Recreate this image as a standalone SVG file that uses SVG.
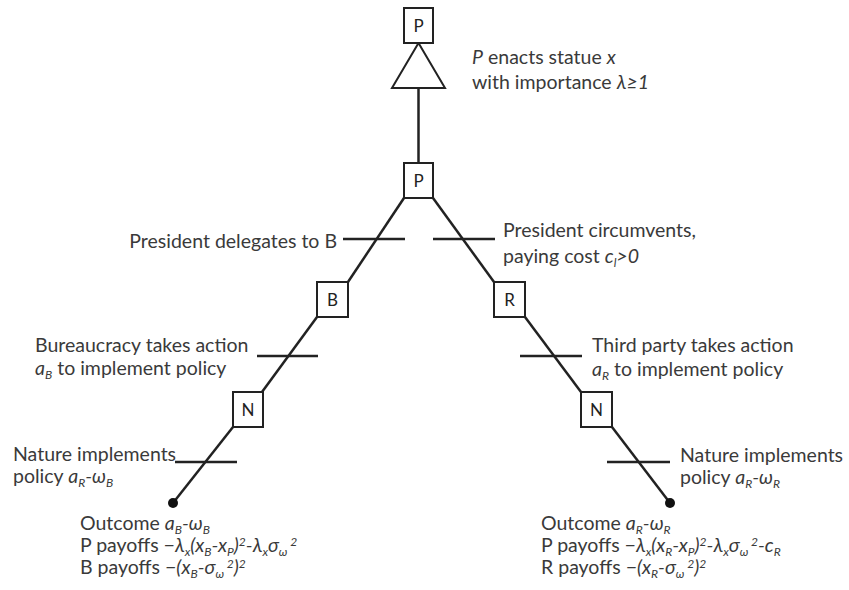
<svg xmlns="http://www.w3.org/2000/svg" width="849" height="590" viewBox="0 0 849 590">
<style>
  .box { fill: #fff; stroke: #222; stroke-width: 2; }
  .edge { stroke: #222; stroke-width: 2.5; fill: none; }
  .tick { stroke: #222; stroke-width: 2.5; }
  .lbl { font-family: Lato, "Liberation Sans", sans-serif; font-size: 19.5px; fill: #3a3a3a; }
  .nl { font-family: Lato, "Liberation Sans", sans-serif; font-size: 17px; fill: #222; text-anchor: middle; }
  .i { font-style: italic; }
  .s { font-size: 12px; font-style: italic; }
</style>
<rect width="849" height="590" fill="#fff"/>
<g id="connectors">
  <line class="edge" x1="418.5" y1="88" x2="418.5" y2="163"/>
  <line class="edge" x1="404" y1="198" x2="348" y2="282"/>
  <line class="edge" x1="433" y1="198" x2="494" y2="282"/>
  <line class="edge" x1="317" y1="317" x2="262" y2="392"/>
  <line class="edge" x1="525" y1="317" x2="581" y2="392"/>
  <line class="edge" x1="233" y1="427" x2="173" y2="503"/>
  <line class="edge" x1="612" y1="427" x2="670" y2="503"/>
  <line class="tick" x1="343" y1="239" x2="405" y2="239"/>
  <line class="tick" x1="433" y1="239" x2="495" y2="239"/>
  <line class="tick" x1="257" y1="356" x2="318" y2="356"/>
  <line class="tick" x1="520" y1="356" x2="582" y2="356"/>
  <line class="tick" x1="175" y1="462" x2="237" y2="462"/>
  <line class="tick" x1="607" y1="462" x2="670" y2="462"/>
</g>
<g id="node-P-root">
  <polygon class="box" points="418.5,43 392,88 445,88"/>
  <rect class="box" x="404" y="8" width="29" height="35"/>
  <text class="nl" x="418.5" y="32">P</text>
</g>
<g id="node-P">
  <rect class="box" x="404" y="163" width="29" height="35"/>
  <text class="nl" x="418.5" y="187">P</text>
</g>
<g id="node-B">
  <rect class="box" x="317" y="282" width="31" height="35"/>
  <text class="nl" x="332.5" y="306">B</text>
</g>
<g id="node-R">
  <rect class="box" x="494" y="282" width="31" height="35"/>
  <text class="nl" x="509.5" y="306">R</text>
</g>
<g id="node-N-left">
  <rect class="box" x="233" y="392" width="30" height="35"/>
  <text class="nl" x="248" y="416">N</text>
</g>
<g id="node-N-right">
  <rect class="box" x="581" y="392" width="31" height="35"/>
  <text class="nl" x="596.5" y="416">N</text>
</g>
<g id="node-end-left">
  <circle cx="173" cy="503" r="5" fill="#111"/>
</g>
<g id="node-end-right">
  <circle cx="670" cy="503" r="5" fill="#111"/>
</g>
<g id="labels">
  <text class="lbl" x="472" y="64"><tspan class="i">P</tspan> enacts statue <tspan class="i">x</tspan></text>
  <text class="lbl" x="472" y="89">with importance <tspan class="i">λ≥1</tspan></text>

  <text class="lbl" x="337" y="248" text-anchor="end">President delegates to B</text>

  <text class="lbl" x="503" y="237">President circumvents,</text>
  <text class="lbl" x="503" y="263">paying cost <tspan class="i">c</tspan><tspan class="s" dy="4">l</tspan><tspan class="i" dy="-4">&gt;0</tspan></text>

  <text class="lbl" x="35" y="352">Bureaucracy takes action</text>
  <text class="lbl" x="35" y="375"><tspan class="i">a</tspan><tspan class="s" dy="4">B</tspan><tspan dy="-4"> to implement policy</tspan></text>

  <text class="lbl" x="592" y="352">Third party takes action</text>
  <text class="lbl" x="592" y="376"><tspan class="i">a</tspan><tspan class="s" dy="4">R</tspan><tspan dy="-4"> to implement policy</tspan></text>

  <text class="lbl" x="13" y="461">Nature implements</text>
  <text class="lbl" x="13" y="483">policy <tspan class="i">a</tspan><tspan class="s" dy="4">R</tspan><tspan class="i" dy="-4">-ω</tspan><tspan class="s" dy="4">B</tspan></text>

  <text class="lbl" x="680" y="462">Nature implements</text>
  <text class="lbl" x="680" y="484">policy <tspan class="i">a</tspan><tspan class="s" dy="4">R</tspan><tspan class="i" dy="-4">-ω</tspan><tspan class="s" dy="4">R</tspan></text>

  <text class="lbl" x="80" y="530">Outcome <tspan class="i">a</tspan><tspan class="s" dy="4">B</tspan><tspan class="i" dy="-4">-ω</tspan><tspan class="s" dy="4">B</tspan></text>
  <text class="lbl" x="80" y="552">P payoffs <tspan class="i">−λ</tspan><tspan class="s" dy="4">x</tspan><tspan class="i" dy="-4">(x</tspan><tspan class="s" dy="4">B</tspan><tspan class="i" dy="-4">-x</tspan><tspan class="s" dy="4">P</tspan><tspan class="i" dy="-4">)</tspan><tspan class="s" dy="-6">2</tspan><tspan class="i" dy="6">-λ</tspan><tspan class="s" dy="4">x</tspan><tspan class="i" dy="-4">σ</tspan><tspan class="s" dy="4">ω</tspan><tspan class="s" dy="-10"> 2</tspan></text>
  <text class="lbl" x="80" y="574">B payoffs <tspan class="i">−(x</tspan><tspan class="s" dy="4">B</tspan><tspan class="i" dy="-4">-σ</tspan><tspan class="s" dy="4">ω</tspan><tspan class="s" dy="-10"> 2</tspan><tspan class="i" dy="6">)</tspan><tspan class="s" dy="-6">2</tspan></text>

  <text class="lbl" x="541" y="530">Outcome <tspan class="i">a</tspan><tspan class="s" dy="4">R</tspan><tspan class="i" dy="-4">-ω</tspan><tspan class="s" dy="4">R</tspan></text>
  <text class="lbl" x="541" y="552">P payoffs <tspan class="i">−λ</tspan><tspan class="s" dy="4">x</tspan><tspan class="i" dy="-4">(x</tspan><tspan class="s" dy="4">R</tspan><tspan class="i" dy="-4">-x</tspan><tspan class="s" dy="4">P</tspan><tspan class="i" dy="-4">)</tspan><tspan class="s" dy="-6">2</tspan><tspan class="i" dy="6">-λ</tspan><tspan class="s" dy="4">x</tspan><tspan class="i" dy="-4">σ</tspan><tspan class="s" dy="4">ω</tspan><tspan class="s" dy="-10"> 2</tspan><tspan class="i" dy="6">-c</tspan><tspan class="s" dy="4">R</tspan></text>
  <text class="lbl" x="541" y="574">R payoffs <tspan class="i">−(x</tspan><tspan class="s" dy="4">R</tspan><tspan class="i" dy="-4">-σ</tspan><tspan class="s" dy="4">ω</tspan><tspan class="s" dy="-10"> 2</tspan><tspan class="i" dy="6">)</tspan><tspan class="s" dy="-6">2</tspan></text>
</g>
</svg>
